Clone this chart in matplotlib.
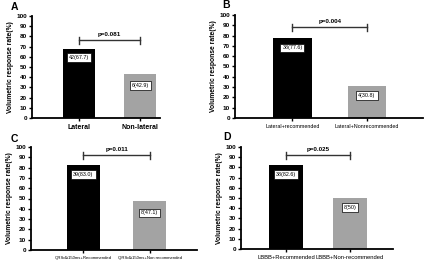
import matplotlib
matplotlib.use('Agg')
import matplotlib.pyplot as plt

plt.rcParams['font.family'] = ['Liberation Sans', 'DejaVu Sans']

W, H = 440, 266

# panel data
letters = ['A', 'B', 'C', 'D']
cats = [['Lateral', 'Non-lateral'],
        ['Lateral+recommended', 'Lateral+Nonrecommended'],
        ['QRSd\u2265150ms+Recommended', 'QRSd\u2265150ms+Non recommended'],
        ['LBBB+Recommended', 'LBBB+Non-recommended']]
rates = [[67.7, 42.9], [77.6, 30.8], [83.0, 47.1], [82.6, 50.0]]
labels = [['42(67.7)', '6(42.9)'], ['38(77.6)', '4(30.8)'],
          ['39(83.0)', '8(47.1)'], ['38(82.6)', '8(50)']]
label_y = [[59, 32], [68, 22], [73, 36], [73, 41]]
pvals = ['p=0.081', 'p=0.004', 'p=0.011', 'p=0.025']
bracket_y = [76, 88, 92, 92]

# pixel boxes: left, right, top, bottom
boxes = [(32, 160, 16, 118), (235, 423, 15, 118),
         (31, 197, 147, 250), (241, 393, 147, 249)]
xlims = [(-0.76, 1.32), (-0.77, 1.75), (-0.79, 1.71), (-0.70, 1.67)]
widths = [0.52, 0.52, 0.5, 0.53]
xfs = [5.0, 3.9, 3.05, 4.2]
xbold = ['bold', 'normal', 'normal', 'normal']
letter_pos = [(11, 2), (222, 0), (11, 134), (223, 132)]

fig = plt.figure(figsize=(W / 100, H / 100), dpi=100)
fig.patch.set_facecolor('white')

for i in range(4):
    l, r, t, b = boxes[i]
    ax = fig.add_axes([l / W, 1 - b / H, (r - l) / W, (b - t) / H])
    ax.bar([0, 1], rates[i], width=widths[i], color=['black', '#a3a3a3'],
           edgecolor='none')
    ax.set_xlim(*xlims[i])
    ax.set_ylim(0, 100)
    ax.set_yticks(range(0, 101, 10))
    ax.set_xticks([0, 1])
    ax.set_xticklabels(cats[i], fontsize=xfs[i], fontweight=xbold[i])
    ax.tick_params(axis='y', labelsize=4.6, width=1, length=2.5, pad=1)
    ax.tick_params(axis='x', width=1, length=2.5, pad=1.5)
    for lab in ax.get_yticklabels():
        lab.set_fontweight('bold')
    for s in ['top', 'right']:
        ax.spines[s].set_visible(False)
    for s in ['left', 'bottom']:
        ax.spines[s].set_linewidth(1.3)
    ax.set_ylabel('Volumetric response rate(%)', fontsize=4.9,
                  fontweight='bold', labelpad=2)
    for j in range(2):
        ax.text(j, label_y[i][j], labels[i][j], ha='center', va='center',
                fontsize=3.9,
                bbox=dict(boxstyle='square,pad=0.35', fc='white',
                          ec='black', lw=0.5))
    by = bracket_y[i]
    ax.plot([0, 1], [by, by], color='#333333', lw=1)
    ax.plot([0, 0], [by - 3.5, by + 3.5], color='#333333', lw=1)
    ax.plot([1, 1], [by - 3.5, by + 3.5], color='#333333', lw=1)
    ax.text(0.5, by + 3, pvals[i], ha='center', va='bottom', fontsize=4.5,
            fontweight='bold')
    fig.text(letter_pos[i][0] / W, 1 - letter_pos[i][1] / H, letters[i],
             ha='left', va='top', fontsize=7.5, fontweight='bold')

fig.savefig('out.png', dpi=100, facecolor='white')
